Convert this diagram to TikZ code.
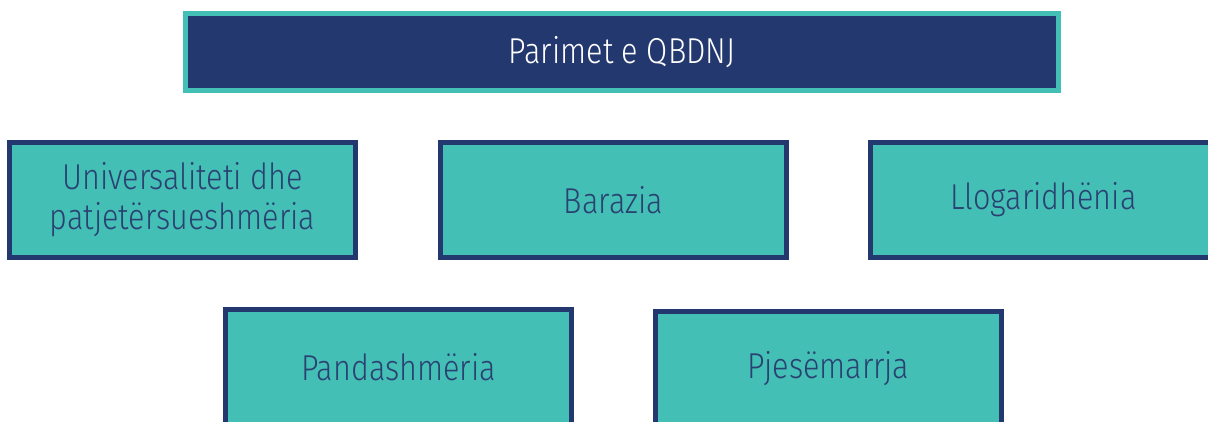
\documentclass[tikz,border=0pt]{standalone}
\usepackage{fontspec}
\setmainfont{Fira Sans Light}[FakeStretch=0.85]
\definecolor{teal1}{HTML}{44BFB5}
\definecolor{navy1}{HTML}{243870}
\definecolor{navytext}{HTML}{2A4272}
\tikzset{
  princ/.style={draw=navy1, fill=teal1, line width=5pt, minimum width=346pt, minimum height=115pt,
    inner sep=0pt, align=center, text=navytext, font=\fontsize{36}{40}\selectfont},
  titlebox/.style={draw=teal1, fill=navy1, line width=5pt, minimum width=873pt, minimum height=77pt,
    inner sep=0pt, align=center, text=white, font=\fontsize{36}{40}\selectfont}
}
\begin{document}
\begin{tikzpicture}[x=1pt,y=-1pt]
\useasboundingbox (0,0) rectangle (1208,421);
\clip (0,0) rectangle (1208,421);
\node[titlebox] (title) at (622,52) {Parimet e QBDNJ};
\node[princ] (univ) at (182.5,200) {Universaliteti dhe\\patjetërsueshmëria};
\node[princ] (bar) at (613.5,200) {Barazia};
\node[princ] (llog) at (1043.5,200) {Llogaridhënia};
\node[princ] (pand) at (398.5,367) {Pandashmëria};
\node[princ] (pjes) at (828.5,369) {Pjesëmarrja};
\end{tikzpicture}
\end{document}
